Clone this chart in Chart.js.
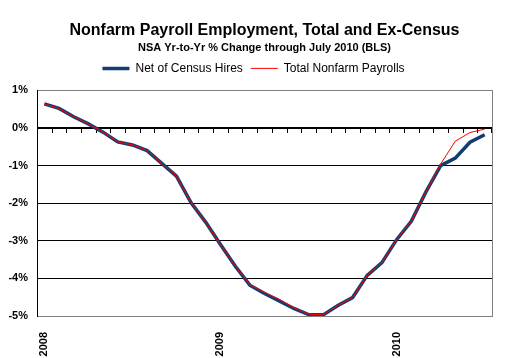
<!DOCTYPE html>
<html lang="en">
<head>
    <meta charset="UTF-8">
    <title>Nonfarm Payroll Employment, Total and Ex-Census</title>
    <script src="https://cdn.jsdelivr.net/npm/chart.js"></script>
    <style>
        body { margin: 0; padding: 0; background: #fff; }
        #wrap { width: 507px; height: 358px; }
    </style>
</head>
<body>
    <div id="wrap"><canvas id="chart" width="507" height="358"></canvas></div>

    <script>
        const months = [
            'Jan-08', 'Feb-08', 'Mar-08', 'Apr-08', 'May-08', 'Jun-08', 'Jul-08', 'Aug-08', 'Sep-08', 'Oct-08', 'Nov-08', 'Dec-08',
            'Jan-09', 'Feb-09', 'Mar-09', 'Apr-09', 'May-09', 'Jun-09', 'Jul-09', 'Aug-09', 'Sep-09', 'Oct-09', 'Nov-09', 'Dec-09',
            'Jan-10', 'Feb-10', 'Mar-10', 'Apr-10', 'May-10', 'Jun-10', 'Jul-10'
        ];
        const yearLabels = ['2008', '2009', '2010'];

        const netOfCensus = [0.64, 0.52, 0.30, 0.11, -0.11, -0.37, -0.45, -0.60, -0.94, -1.28, -1.99, -2.51,
            -3.10, -3.67, -4.18, -4.40, -4.60, -4.80, -4.96, -4.97, -4.72, -4.51, -3.92, -3.58,
            -2.97, -2.48, -1.70, -1.00, -0.80, -0.38, -0.18];
        const totalNonfarm = [0.64, 0.52, 0.30, 0.11, -0.11, -0.37, -0.45, -0.60, -0.94, -1.28, -1.99, -2.51,
            -3.10, -3.67, -4.17, -4.37, -4.55, -4.78, -4.95, -4.97, -4.72, -4.51, -3.92, -3.58,
            -2.97, -2.48, -1.70, -0.96, -0.35, -0.12, -0.03];

        const blue = '#123d6f';
        const red = '#ff0000';
        const font = 'Arial, "Liberation Sans", sans-serif';

        // small tick marks hanging below the 0% category axis line
        const zeroAxisTicks = {
            id: 'zeroAxisTicks',
            beforeDatasetsDraw(chart) {
                const x = chart.scales.x, y = chart.scales.y;
                const y0 = y.getPixelForValue(0);
                const c = chart.ctx;
                c.save();
                c.strokeStyle = '#000';
                c.lineWidth = 1;
                c.beginPath();
                for (let i = 1; i <= months.length; i++) {
                    const px = i < months.length
                        ? Math.round((x.getPixelForValue(i - 1) + x.getPixelForValue(i)) / 2) + 0.5
                        : chart.chartArea.right - 0.5;
                    c.moveTo(px, y0);
                    c.lineTo(px, y0 + 5);
                }
                c.stroke();
                c.restore();
            }
        };

        new Chart(document.getElementById('chart'), {
            type: 'line',
            data: {
                labels: months,
                datasets: [{
                    label: 'Total Nonfarm Payrolls',
                    data: totalNonfarm,
                    borderColor: red,
                    backgroundColor: red,
                    borderWidth: 1,
                    pointRadius: 0,
                    tension: 0,
                    pointStyle: 'line'
                }, {
                    label: 'Net of Census Hires',
                    data: netOfCensus,
                    borderColor: blue,
                    backgroundColor: blue,
                    borderWidth: 3.5,
                    pointRadius: 0,
                    tension: 0,
                    pointStyle: 'line'
                }]
            },
            options: {
                responsive: false,
                animation: false,
                layout: { padding: 0 },
                plugins: {
                    title: {
                        display: true,
                        fullSize: false,
                        text: 'Nonfarm Payroll Employment, Total and Ex-Census',
                        color: '#000',
                        font: { family: font, size: 16, weight: 'bold' },
                        padding: { top: 21, bottom: 0 }
                    },
                    subtitle: {
                        display: true,
                        fullSize: false,
                        text: 'NSA Yr-to-Yr % Change through July 2010 (BLS)',
                        color: '#000',
                        font: { family: font, size: 11, weight: 'bold' },
                        padding: { top: 1, bottom: 0 }
                    },
                    legend: {
                        reverse: true,
                        labels: {
                            usePointStyle: true,
                            pointStyleWidth: 27,
                            color: '#000',
                            font: { family: font, size: 12 },
                            padding: 8
                        }
                    },
                    tooltip: { enabled: false }
                },
                scales: {
                    x: {
                        offset: true,
                        grid: { display: false, offset: true },
                        border: { display: true, color: '#808080', width: 1 },
                        ticks: {
                            autoSkip: false,
                            minRotation: 90,
                            maxRotation: 90,
                            padding: 8,
                            color: '#000',
                            font: { family: font, size: 11, weight: 'bold' },
                            callback: (v, i) => (i % 12 === 0 ? yearLabels[i / 12] : '')
                        },
                        afterFit(s) { s.height = 42; }
                    },
                    xTopGap: {
                        type: 'linear',
                        position: 'top',
                        grid: { display: false },
                        ticks: { display: false },
                        border: { display: false },
                        afterFit(s) { s.height = 6; }
                    },
                    y: {
                        min: -5,
                        max: 1,
                        grid: {
                            drawTicks: false,
                            color: (c) => (c.tick && (c.tick.value === 1 || c.tick.value === -5) ? '#808080' : '#000'),
                            lineWidth: (c) => (c.tick && c.tick.value === 0 ? 2 : 1)
                        },
                        border: { display: true, color: '#000', width: 1 },
                        ticks: {
                            stepSize: 1,
                            padding: 9,
                            color: '#000',
                            font: { family: font, size: 11, weight: 'bold' },
                            callback: (v) => v + '%'
                        },
                        afterFit(s) { s.width = 37; }
                    },
                    yRight: {
                        type: 'linear',
                        position: 'right',
                        grid: { display: false },
                        ticks: { display: false },
                        border: { display: true, color: '#808080', width: 1 },
                        afterFit(s) { s.width = 15; }
                    }
                }
            },
            plugins: [zeroAxisTicks]
        });
    </script>
</body>
</html>
